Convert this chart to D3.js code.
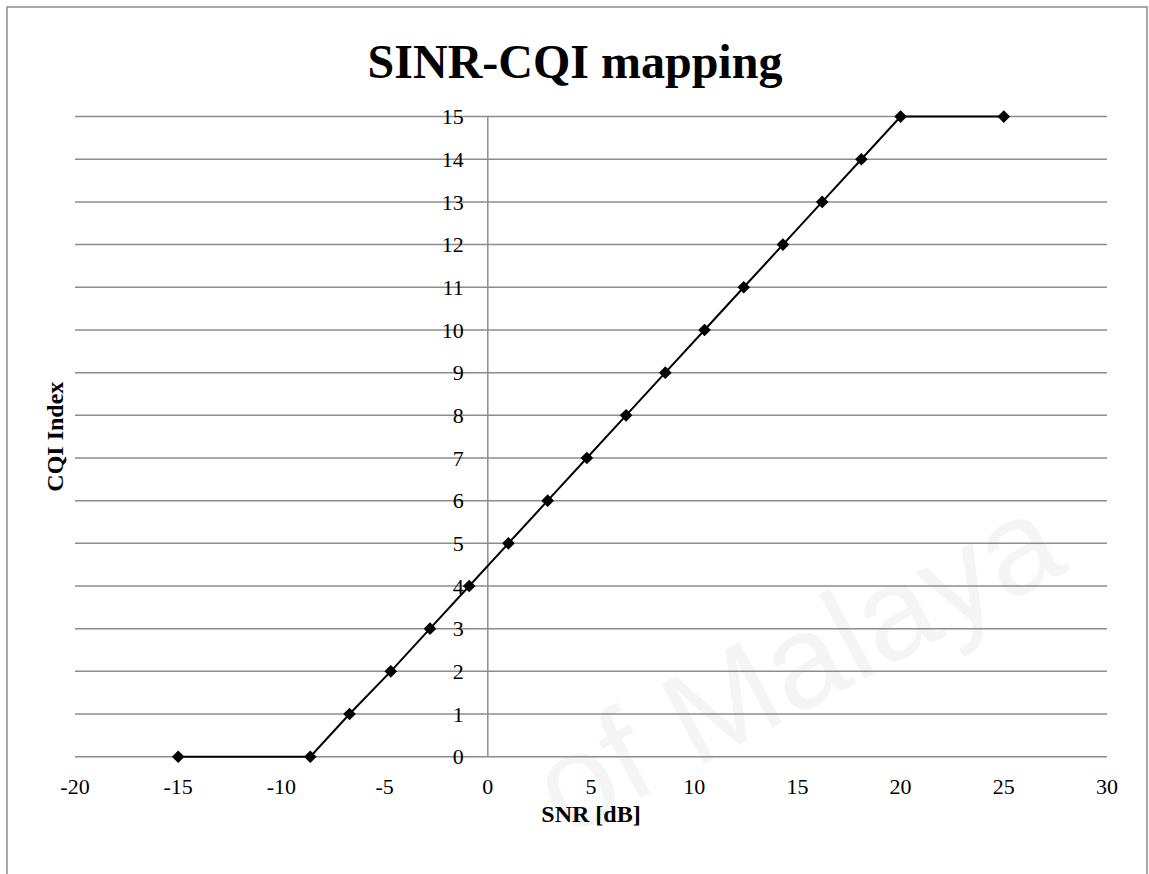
<!DOCTYPE html>
<html>
<head>
<meta charset="utf-8">
<script src="https://cdn.jsdelivr.net/npm/d3@7"></script>
<style>
  body { margin: 0; background: #fff; }
  svg { display: block; }
</style>
</head>
<body>
<div id="chart"></div>
<script>
// SINR -> CQI mapping points
const snr = [-15, -8.6, -6.7, -4.7, -2.8, -0.9, 1.0, 2.9, 4.8, 6.7, 8.6, 10.5, 12.4, 14.3, 16.2, 18.1, 20.0, 25];
const cqi = [0, 0, 1, 2, 3, 4, 5, 6, 7, 8, 9, 10, 11, 12, 13, 14, 15, 15];
const xTicks = [-20, -15, -10, -5, 0, 5, 10, 15, 20, 25, 30];
const yTicks = d3.range(0, 16);

const width = 1149;
const height = 874;
const margin = { top: 116.6, right: 42, bottom: 117.3, left: 75 };
const serif = '"Liberation Serif", "Times New Roman", serif';
const gridColor = '#8c8c8c';

const data = snr.map((s, i) => ({ x: s, y: cqi[i] }));

const x = d3.scaleLinear()
  .domain([-20, 30])
  .range([margin.left, width - margin.right]);

const y = d3.scaleLinear()
  .domain([0, 15])
  .range([height - margin.bottom, margin.top]);

const svg = d3.select('#chart').append('svg')
  .attr('width', width)
  .attr('height', height);

// faint watermark behind the chart
svg.append('text')
  .attr('transform', 'translate(565,838) rotate(-28)')
  .attr('font-family', '"Liberation Sans", Arial, sans-serif')
  .attr('font-size', 132)
  .attr('fill', '#f5f5f5')
  .text('of Malaya');

// chart frame
svg.append('rect')
  .attr('x', 7)
  .attr('y', 7)
  .attr('width', 1140)
  .attr('height', 900)
  .attr('fill', 'none')
  .attr('stroke', gridColor)
  .attr('stroke-width', 1.5);

// horizontal gridlines
svg.append('g')
  .selectAll('line')
  .data(yTicks)
  .enter().append('line')
  .attr('x1', x(-20))
  .attr('x2', x(30))
  .attr('y1', (d) => y(d))
  .attr('y2', (d) => y(d))
  .attr('stroke', gridColor)
  .attr('stroke-width', 1.5);

// vertical axis at x = 0
svg.append('line')
  .attr('x1', x(0))
  .attr('x2', x(0))
  .attr('y1', y(15))
  .attr('y2', y(0))
  .attr('stroke', gridColor)
  .attr('stroke-width', 1.5);

// y tick labels
svg.append('g')
  .selectAll('text')
  .data(yTicks)
  .enter().append('text')
  .attr('x', x(0) - 24)
  .attr('y', (d) => y(d))
  .attr('dy', '0.35em')
  .attr('text-anchor', 'end')
  .attr('font-family', serif)
  .attr('font-size', 22)
  .text((d) => d);

// x tick labels
svg.append('g')
  .selectAll('text')
  .data(xTicks)
  .enter().append('text')
  .attr('x', (d) => x(d))
  .attr('y', y(0) + 30)
  .attr('dy', '0.35em')
  .attr('text-anchor', 'middle')
  .attr('font-family', serif)
  .attr('font-size', 22)
  .text((d) => d);

// series line
const line = d3.line()
  .x((d) => x(d.x))
  .y((d) => y(d.y));

svg.append('path')
  .datum(data)
  .attr('d', line)
  .attr('fill', 'none')
  .attr('stroke', '#000')
  .attr('stroke-width', 2);

// diamond markers
svg.append('g')
  .selectAll('path')
  .data(data)
  .enter().append('path')
  .attr('transform', (d) => `translate(${x(d.x)},${y(d.y)}) rotate(45)`)
  .attr('d', d3.symbol().type(d3.symbolSquare).size(80))
  .attr('fill', '#000');

// title
svg.append('text')
  .attr('x', 575)
  .attr('y', 78)
  .attr('text-anchor', 'middle')
  .attr('font-family', serif)
  .attr('font-weight', 'bold')
  .attr('font-size', 48)
  .text('SINR-CQI mapping');

// axis titles
svg.append('text')
  .attr('x', (x(-20) + x(30)) / 2)
  .attr('y', 822)
  .attr('text-anchor', 'middle')
  .attr('font-family', serif)
  .attr('font-weight', 'bold')
  .attr('font-size', 24)
  .text('SNR [dB]');

svg.append('text')
  .attr('transform', `translate(63,${(y(0) + y(15)) / 2}) rotate(-90)`)
  .attr('text-anchor', 'middle')
  .attr('font-family', serif)
  .attr('font-weight', 'bold')
  .attr('font-size', 24)
  .text('CQI Index');
</script>
</body>
</html>
